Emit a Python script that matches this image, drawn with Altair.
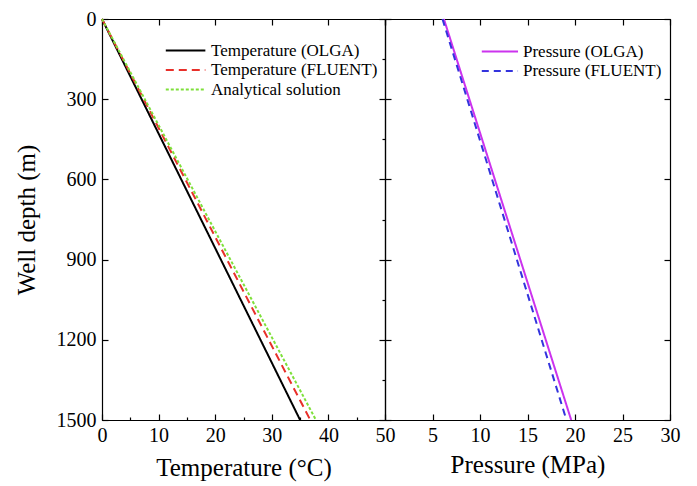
import altair as alt
import pandas as pd

# ---- data ----
depth = [0, 1500]
temp_olga = [0.0, 35.0]
temp_fluent = [0.0, 36.8]
temp_analytical = [0.0, 37.8]
pres_olga = [6.2, 19.6]
pres_fluent = [6.05, 19.1]

temp_series = ["Temperature (OLGA)", "Temperature (FLUENT)", "Analytical solution"]
temp_colors = ["#000000", "#e8302a", "#7ee03a"]
temp_dashes = [[1, 0], [8, 5], [3, 2]]

pres_series = ["Pressure (OLGA)", "Pressure (FLUENT)"]
pres_colors = ["#cc33ee", "#3333dd"]
pres_dashes = [[1, 0], [7, 5]]

temp_x_ticks = list(range(0, 51, 5))
temp_top_ticks = list(range(0, 51, 10))
pres_x_ticks = list(range(5, 31, 5))
pres_top_ticks = list(range(0, 31, 5))
depth_ticks = list(range(0, 1501, 300))
depth_minor_ticks = list(range(0, 1501, 150))

FONT = "Liberation Serif"

rows = []
for name, vals in zip(temp_series, [temp_olga, temp_fluent, temp_analytical]):
    for d, v in zip(depth, vals):
        rows.append({"series": name, "depth": d, "value": v})
temp_df = pd.DataFrame(rows)

rows = []
for name, vals in zip(pres_series, [pres_olga, pres_fluent]):
    for d, v in zip(depth, vals):
        rows.append({"series": name, "depth": d, "value": v})
pres_df = pd.DataFrame(rows)


def ex(s):
    return {"expr": s}


ysc = alt.Scale(domain=[0, 1500], reverse=True, nice=False, zero=False)
txsc = alt.Scale(domain=[0, 50], nice=False, zero=False)
pxsc = alt.Scale(domain=[0, 30], nice=False, zero=False)


def make_legend(x, y, path, offset):
    return alt.Legend(
        title=None, orient="none", legendX=x, legendY=y,
        symbolType=path, symbolSize=180, symbolStrokeWidth=2,
        labelFont=FONT, labelFontSize=17, labelColor="black",
        labelOffset=offset, rowPadding=1.5, padding=0, labelLimit=400,
    )


temp_leg = make_legend(62, 23, "M-1,0H4.9", 30)
temp_lines = alt.Chart(temp_df).mark_line(strokeWidth=2).encode(
    x=alt.X("value:Q", scale=txsc, title="Temperature (°C)",
            axis=alt.Axis(orient="bottom", values=temp_x_ticks, format="d",
                          labelExpr="datum.value % 10 === 0 ? datum.label : ''",
                          tickSize=ex("datum.value % 10 === 0 ? -6 : -3"),
                          labelPadding=11, titlePadding=7)),
    y=alt.Y("depth:Q", scale=ysc, title="Well depth (m)",
            axis=alt.Axis(orient="left", values=depth_ticks, format="d",
                          tickSize=ex("-6"), labelPadding=12, titlePadding=17)),
    color=alt.Color("series:N", scale=alt.Scale(domain=temp_series, range=temp_colors),
                    legend=temp_leg, sort=temp_series),
    strokeDash=alt.StrokeDash("series:N", scale=alt.Scale(domain=temp_series, range=temp_dashes),
                              legend=temp_leg, sort=temp_series),
)
temp_frame = alt.Chart(temp_df).mark_line(opacity=0).encode(
    x=alt.X("value:Q", scale=txsc, title=None,
            axis=alt.Axis(orient="top", values=temp_top_ticks, labels=False,
                          tickSize=ex("-6"))),
    y=alt.Y("depth:Q", scale=ysc, title=None,
            axis=alt.Axis(orient="right", values=depth_minor_ticks, labels=False,
                          tickSize=ex("datum.value % 300 === 0 ? -6 : -3"))),
    detail="series:N",
)
left = alt.layer(temp_lines, temp_frame).resolve_axis(
    x="independent", y="independent").properties(width=283, height=401)

pres_leg = make_legend(95, 24, "M-1,0H4.4", 26)
pres_lines = alt.Chart(pres_df).mark_line(strokeWidth=2).encode(
    x=alt.X("value:Q", scale=pxsc, title="Pressure (MPa)",
            axis=alt.Axis(orient="bottom", values=pres_x_ticks, format="d",
                          tickSize=ex("-6"), labelPadding=11, titlePadding=7)),
    y=alt.Y("depth:Q", scale=ysc, title=None,
            axis=alt.Axis(orient="left", values=depth_ticks, labels=False,
                          tickSize=ex("-6"))),
    color=alt.Color("series:N", scale=alt.Scale(domain=pres_series, range=pres_colors),
                    legend=pres_leg, sort=pres_series),
    strokeDash=alt.StrokeDash("series:N", scale=alt.Scale(domain=pres_series, range=pres_dashes),
                              legend=pres_leg, sort=pres_series),
)
pres_frame = alt.Chart(pres_df).mark_line(opacity=0).encode(
    x=alt.X("value:Q", scale=pxsc, title=None,
            axis=alt.Axis(orient="top", values=pres_top_ticks, labels=False,
                          tickSize=ex("-6"))),
    y=alt.Y("depth:Q", scale=ysc, title=None,
            axis=alt.Axis(orient="right", values=depth_ticks, labels=False,
                          tickSize=ex("-6"))),
    detail="series:N",
)
right = alt.layer(pres_lines, pres_frame).resolve_axis(
    x="independent", y="independent").properties(width=285, height=401)

chart = alt.hconcat(left, right, spacing=0, bounds="flush").resolve_scale(
    x="independent", color="independent", strokeDash="independent"
).properties(
    padding={"left": 5, "top": 0, "right": 5, "bottom": 5},
    background="white",
).configure_view(stroke="black", strokeWidth=1).configure_axis(
    grid=False, labelFont=FONT, labelFontSize=20, labelColor="black",
    titleFont=FONT, titleFontSize=25, titleFontWeight="normal", titleColor="black",
    domainColor="black", domainWidth=1.2, tickColor="black", tickWidth=1.2,
    labelFlush=False, labelOverlap=False,
)

chart.save("out.html", embed_options={"renderer": "svg", "actions": False})
